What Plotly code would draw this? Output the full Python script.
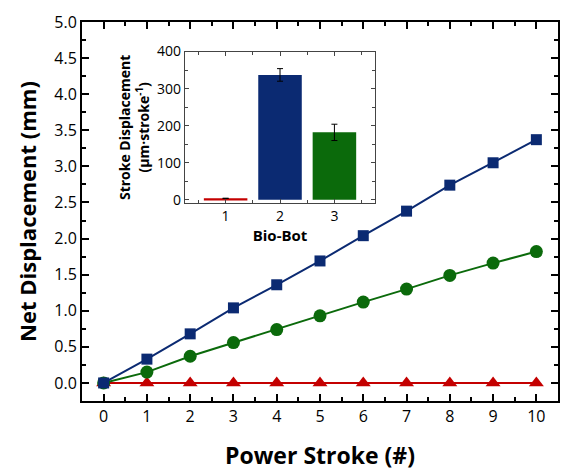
import plotly.graph_objects as go

strokes = [0, 1, 2, 3, 4, 5, 6, 7, 8, 9, 10]
bot1_disp = [0, 0, 0, 0, 0, 0, 0, 0, 0, 0, 0]
bot2_disp = [0, 0.33, 0.68, 1.04, 1.36, 1.69, 2.04, 2.38, 2.74, 3.05, 3.37]
bot3_disp = [0, 0.15, 0.37, 0.56, 0.74, 0.93, 1.12, 1.30, 1.49, 1.66, 1.82]

biobots = [1, 2, 3]
stroke_disp = [4, 337, 182]
stroke_err = [0, 17, 22]

RED = "#c40000"
BLUE = "#0b2a72"
GREEN = "#0b6a0b"
FONT = "Open Sans"

fig = go.Figure()
fig.add_trace(go.Scatter(x=strokes, y=bot1_disp, mode="lines+markers",
                         line=dict(color=RED, width=2),
                         marker=dict(symbol="triangle-up", size=13, color=RED),
                         xaxis="x", yaxis="y", showlegend=False, cliponaxis=False))
fig.add_trace(go.Scatter(x=strokes, y=bot3_disp, mode="lines+markers",
                         line=dict(color=GREEN, width=2),
                         marker=dict(symbol="circle", size=13, color=GREEN),
                         xaxis="x", yaxis="y", showlegend=False, cliponaxis=False))
fig.add_trace(go.Scatter(x=strokes, y=bot2_disp, mode="lines+markers",
                         line=dict(color=BLUE, width=2),
                         marker=dict(symbol="square", size=11, color=BLUE),
                         xaxis="x", yaxis="y", showlegend=False, cliponaxis=False))

fig.add_trace(go.Bar(x=biobots, y=stroke_disp,
                     marker=dict(color=[RED, BLUE, GREEN], line=dict(width=0)),
                     width=0.8,
                     error_y=dict(type="data", array=stroke_err, color="black", thickness=1, width=3),
                     xaxis="x2", yaxis="y2", showlegend=False))

axis_common = dict(showline=True, linecolor="black", mirror="ticks", ticks="inside",
                   showgrid=False, zeroline=False, tickcolor="black", automargin=False)

fig.update_layout(
    width=562, height=471,
    margin=dict(l=82, r=4, t=22, b=70),
    paper_bgcolor="white", plot_bgcolor="white",
    font=dict(family=FONT, color="black"),
    xaxis=dict(range=[-0.5, 10.5], tickvals=strokes, linewidth=2, ticklen=7, tickwidth=1.5,
               minor=dict(dtick=0.5, ticks="inside", ticklen=4, tickcolor="black", tickwidth=1.5),
               tickfont=dict(size=16),
               title=dict(text="<b>Power Stroke (#)</b>", font=dict(size=23), standoff=27),
               **axis_common),
    yaxis=dict(range=[-0.25, 5.0], dtick=0.5, tickformat=".1f", linewidth=2, ticklen=7, tickwidth=1.5,
               minor=dict(dtick=0.25, ticks="inside", ticklen=4, tickcolor="black", tickwidth=1.5),
               tickfont=dict(size=16),
               title=dict(text="<b>Net Displacement (mm)</b>", font=dict(size=22), standoff=12),
               **axis_common),
    xaxis2=dict(domain=[0.216, 0.616], anchor="y2", range=[0.25, 3.75], tickvals=biobots,
                linewidth=1, linecolor="#444", ticklen=4, tickwidth=1,
                minor=dict(dtick=0.5, ticks="inside", ticklen=3, tickcolor="#444"),
                tickfont=dict(size=14),
                title=dict(text="<b>Bio-Bot</b>", font=dict(size=15), standoff=2),
                showline=True, mirror="ticks", ticks="inside", showgrid=False, zeroline=False,
                tickcolor="#444", automargin=False),
    yaxis2=dict(domain=[0.522, 0.922], anchor="x2", range=[-9, 400], dtick=100,
                linewidth=1, linecolor="#444", ticklen=4, tickwidth=1,
                minor=dict(dtick=50, ticks="inside", ticklen=3, tickcolor="#444"),
                tickfont=dict(size=14),
                title=dict(text="<b>Stroke Displacement<br>(μm·stroke<sup>-1</sup>)</b>", font=dict(size=14), standoff=4),
                showline=True, mirror="ticks", ticks="inside", showgrid=False, zeroline=False,
                tickcolor="#444", automargin=False),
)

fig.write_html("out.html", config={"displayModeBar": False},
               post_script="document.body.style.margin='0';document.body.style.overflow='hidden';")
